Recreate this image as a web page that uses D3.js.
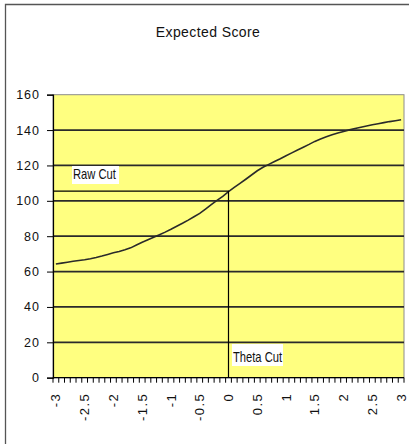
<!DOCTYPE html>
<html>
<head>
<meta charset="utf-8">
<script src="https://cdn.jsdelivr.net/npm/d3@7"></script>
<style>
  html, body { margin: 0; padding: 0; background: #fff; }
  svg { display: block; font-family: "Liberation Sans", Arial, sans-serif; }
</style>
</head>
<body>
<svg id="chart" width="409" height="444"></svg>
<script>
// Ability scale (theta), one category every 0.1
const theta = [
  -3.0, -2.9, -2.8, -2.7, -2.6, -2.5, -2.4, -2.3, -2.2, -2.1,
  -2.0, -1.9, -1.8, -1.7, -1.6, -1.5, -1.4, -1.3, -1.2, -1.1,
  -1.0, -0.9, -0.8, -0.7, -0.6, -0.5, -0.4, -0.3, -0.2, -0.1,
   0.0,  0.1,  0.2,  0.3,  0.4,  0.5,  0.6,  0.7,  0.8,  0.9,
   1.0,  1.1,  1.2,  1.3,  1.4,  1.5,  1.6,  1.7,  1.8,  1.9,
   2.0,  2.1,  2.2,  2.3,  2.4,  2.5,  2.6,  2.7,  2.8,  2.9,
   3.0
];

// Expected raw score at each theta
const expectedScore = [
   64.3,  64.8,  65.3,  65.8,  66.3,  66.7,  67.3,  68.0,  68.8,  69.7,
   70.6,  71.4,  72.3,  73.4,  75.0,  76.6,  78.0,  79.4,  80.8,  82.3,
   83.9,  85.6,  87.3,  89.1,  91.0,  92.9,  95.3,  97.8, 100.2, 102.5,
  105.2, 107.6, 109.9, 112.2, 114.6, 117.0, 119.0, 120.6, 122.2, 123.8,
  125.5, 127.1, 128.7, 130.3, 131.9, 133.6, 135.0, 136.2, 137.3, 138.3,
  139.2, 140.1, 140.9, 141.6, 142.3, 143.0, 143.6, 144.2, 144.8, 145.3,
  145.8
];

const yTicks = [0, 20, 40, 60, 80, 100, 120, 140, 160];
const xTickLabels = [-3, -2.5, -2, -1.5, -1, -0.5, 0, 0.5, 1, 1.5, 2, 2.5, 3];

const rawCut = 105.5;
const thetaCut = 0;

const svg = d3.select("#chart");
const plot = { left: 53, right: 404, top: 94.7, bottom: 377.7 };

const key = v => v.toFixed(1);
const cats = theta.map(key);

const xBand = d3.scaleBand().domain(cats).range([plot.left, plot.right]).paddingInner(0).paddingOuter(0);
const xPt = d3.scalePoint().domain(cats).range([plot.left, plot.right]).padding(0.5);
const y = d3.scaleLinear().domain([0, 160]).range([plot.bottom, plot.top]);

// outer chart frame
svg.append("path")
  .attr("d", `M5.5,446 V4.5 H412`)
  .attr("fill", "none").attr("stroke", "#555").attr("stroke-width", 1.3);

// title
svg.append("text")
  .attr("x", 208).attr("y", 37)
  .attr("text-anchor", "middle")
  .attr("font-size", 14).attr("letter-spacing", "0.4px")
  .attr("fill", "#111")
  .text("Expected Score");

// plot background
svg.append("rect")
  .attr("x", plot.left).attr("y", plot.top)
  .attr("width", plot.right - plot.left).attr("height", plot.bottom - plot.top)
  .attr("fill", "#ffff80").attr("stroke", "#8c8c8c").attr("stroke-width", 1);

// gridlines
svg.append("g").selectAll("line")
  .data(yTicks.filter(d => d > 0 && d < 160))
  .join("line")
  .attr("x1", plot.left).attr("x2", plot.right)
  .attr("y1", d => y(d)).attr("y2", d => y(d))
  .attr("stroke", "#2a2a2a").attr("stroke-width", 1.7);

// y axis
const yAxis = svg.append("g")
  .attr("transform", `translate(${plot.left},0)`)
  .call(d3.axisLeft(y).tickValues(yTicks).tickSize(6).tickPadding(7));
yAxis.select(".domain").attr("stroke", "#000").attr("stroke-width", 1.2);
yAxis.selectAll(".tick line").attr("stroke", "#000");
yAxis.selectAll("text").attr("font-size", 12.5).attr("letter-spacing", "1px").attr("fill", "#111")
  .attr("font-family", "'Liberation Sans', Arial, sans-serif");

// x axis: ticks between categories, labels every 0.5
const xAxis = svg.append("g").attr("transform", `translate(0,${plot.bottom})`);
const boundaries = cats.map(c => xBand(c)).concat([plot.right]);
xAxis.selectAll("line.tk").data(boundaries).join("line")
  .attr("class", "tk")
  .attr("x1", d => d).attr("x2", d => d)
  .attr("y1", 0).attr("y2", 5)
  .attr("stroke", "#000").attr("stroke-width", 1);
xAxis.append("line")
  .attr("x1", plot.left).attr("x2", plot.right)
  .attr("y1", 0).attr("y2", 0)
  .attr("stroke", "#000").attr("stroke-width", 1.2);
xAxis.selectAll("text.lbl").data(xTickLabels).join("text")
  .attr("class", "lbl")
  .attr("transform", d => `translate(${xPt(key(d))},15) rotate(-90)`)
  .attr("text-anchor", "end")
  .attr("dy", "0.35em")
  .attr("font-size", 13).attr("letter-spacing", "1.5px").attr("fill", "#111")
  .text(d => String(d));

// expected score curve
const line = d3.line()
  .x((d, i) => xPt(cats[i]))
  .y(d => y(d));
svg.append("path")
  .datum(expectedScore)
  .attr("d", line)
  .attr("fill", "none").attr("stroke", "#2a2a2a").attr("stroke-width", 1.6);

// cut lines
const xc = xPt(key(thetaCut));
svg.append("path")
  .attr("d", `M${plot.left},${y(rawCut)} H${xc} V${plot.bottom}`)
  .attr("fill", "none").attr("stroke", "#000").attr("stroke-width", 1.2);

// cut labels: condensed text on a white box
function boxLabel(x, yTop, w, h, baseline, txt) {
  const g = svg.append("g");
  g.append("rect").attr("x", x).attr("y", yTop).attr("width", w).attr("height", h)
    .attr("fill", "#fff");
  g.append("text")
    .attr("transform", `translate(${x + 1},${baseline}) scale(0.8,1)`)
    .attr("font-size", 14).attr("fill", "#111")
    .text(txt);
}
boxLabel(72, 166, 47, 18, 179, "Raw Cut");
boxLabel(232, 344, 51, 22, 362, "Theta Cut");
</script>
</body>
</html>
